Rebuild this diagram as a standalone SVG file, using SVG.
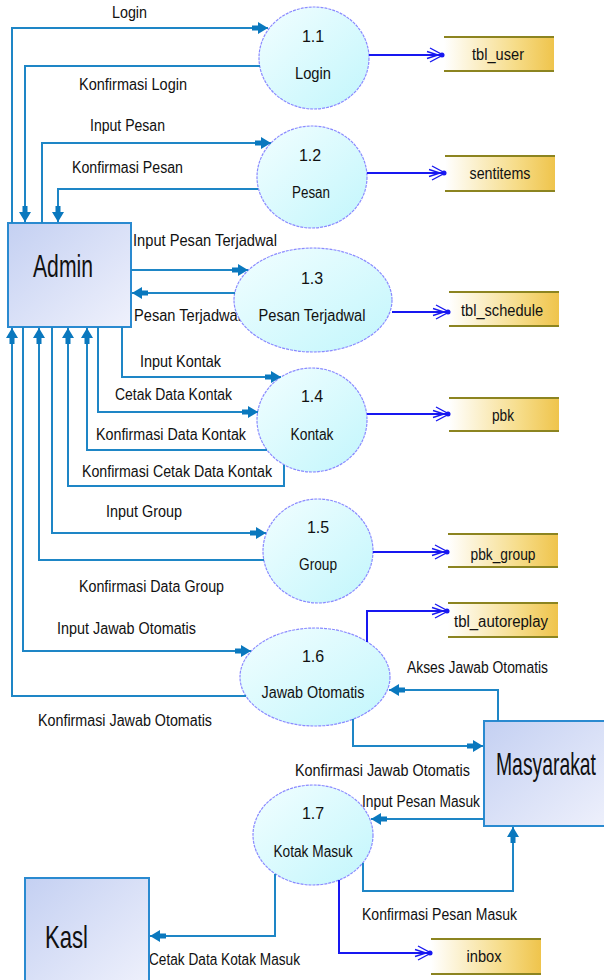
<svg xmlns="http://www.w3.org/2000/svg" width="604" height="980" viewBox="0 0 604 980">
<style>
text{font-family:"Liberation Sans",Arial,sans-serif;fill:#111;}
.lbl{font-size:16px;}
.num{font-size:16px;text-anchor:middle;}
.big{font-size:32px;}
.flow{fill:none;stroke:#1e86c6;stroke-width:2;marker-end:url(#arr);}
.sflow{fill:none;stroke:#1818f0;stroke-width:2;marker-end:url(#sarr);}
.proc{fill:url(#gEll);stroke:#8a8aff;stroke-width:1.2;stroke-dasharray:3 1;}
.ent{fill:url(#gEnt);stroke:#2a8ad0;stroke-width:2;}
.store{fill:url(#gStore);}
.sline{stroke:#8c8420;stroke-width:2;}
</style>
<defs>
<linearGradient id="gEll" x1="0" y1="0" x2="1" y2="1"><stop offset="0" stop-color="#f2feff"/><stop offset="1" stop-color="#c2f6fc"/></linearGradient>
<linearGradient id="gEnt" x1="0" y1="0" x2="1" y2="1"><stop offset="0" stop-color="#c4d0f2"/><stop offset="1" stop-color="#eff1fc"/></linearGradient>
<linearGradient id="gStore" x1="0" y1="0" x2="1" y2="0"><stop offset="0" stop-color="#ffffff"/><stop offset="0.65" stop-color="#f6dc88"/><stop offset="1" stop-color="#efc44c"/></linearGradient>
<marker id="arr" viewBox="-17 -7 18 14" refX="0" refY="0" markerWidth="18" markerHeight="14" markerUnits="userSpaceOnUse" orient="auto">
<path d="M0,0 L-10,-6 L-10,-2.5 L-16,-2.5 L-16,2.5 L-10,2.5 L-10,6 Z" fill="#0a78be"/>
</marker>
<marker id="sarr" viewBox="-18 -9 21 18" refX="0" refY="0" markerWidth="21" markerHeight="18" markerUnits="userSpaceOnUse" orient="auto">
<path d="M-13,-7 L0,0 L-13,7 M-16,-3.5 L-5,0 L-16,3.5" fill="none" stroke="#1818f0" stroke-width="1.4"/>
<circle cx="-1" cy="0" r="2.5" fill="#1818f0"/>
</marker>
</defs>

<g id="labels" class="lbl">
<text x="112" y="18" textLength="35" lengthAdjust="spacingAndGlyphs">Login</text>
<text x="79" y="90" textLength="108" lengthAdjust="spacingAndGlyphs">Konfirmasi Login</text>
<text x="90" y="131" textLength="75" lengthAdjust="spacingAndGlyphs">Input Pesan</text>
<text x="72" y="173" textLength="111" lengthAdjust="spacingAndGlyphs">Konfirmasi Pesan</text>
<text x="133" y="246" textLength="144" lengthAdjust="spacingAndGlyphs">Input Pesan Terjadwal</text>
<text x="134" y="321" textLength="107" lengthAdjust="spacingAndGlyphs">Pesan Terjadwal</text>
<text x="140" y="367" textLength="81" lengthAdjust="spacingAndGlyphs">Input Kontak</text>
<text x="115" y="400" textLength="117" lengthAdjust="spacingAndGlyphs">Cetak Data Kontak</text>
<text x="96" y="440" textLength="150" lengthAdjust="spacingAndGlyphs">Konfirmasi Data Kontak</text>
<text x="82" y="477" textLength="190" lengthAdjust="spacingAndGlyphs">Konfirmasi Cetak Data Kontak</text>
<text x="106" y="517" textLength="76" lengthAdjust="spacingAndGlyphs">Input Group</text>
<text x="79" y="592" textLength="145" lengthAdjust="spacingAndGlyphs">Konfirmasi Data Group</text>
<text x="57" y="634" textLength="139" lengthAdjust="spacingAndGlyphs">Input Jawab Otomatis</text>
<text x="38" y="726" textLength="174" lengthAdjust="spacingAndGlyphs">Konfirmasi Jawab Otomatis</text>
<text x="407" y="673" textLength="141" lengthAdjust="spacingAndGlyphs">Akses Jawab Otomatis</text>
<text x="295" y="776" textLength="175" lengthAdjust="spacingAndGlyphs">Konfirmasi Jawab Otomatis</text>
<text x="362" y="807" textLength="118" lengthAdjust="spacingAndGlyphs">Input Pesan Masuk</text>
<text x="362" y="920" textLength="155" lengthAdjust="spacingAndGlyphs">Konfirmasi Pesan Masuk</text>
<text x="149" y="965" textLength="151" lengthAdjust="spacingAndGlyphs">Cetak Data Kotak Masuk</text>
</g>

<g id="admin">
<rect class="ent" x="8" y="223" width="123" height="104"/>
<text class="big" x="33" y="277" textLength="60" lengthAdjust="spacingAndGlyphs">Admin</text>
</g>
<g id="masyarakat">
<rect class="ent" x="484" y="721" width="130" height="105"/>
<text transform="translate(496,775) scale(1,1.55)" x="0" y="0" font-size="20" textLength="100" lengthAdjust="spacingAndGlyphs">Masyarakat</text>
</g>
<g id="kasl">
<rect class="ent" x="25" y="878" width="124" height="110"/>
<text class="big" x="45" y="948" textLength="43" lengthAdjust="spacingAndGlyphs">Kasl</text>
</g>

<g id="p11">
<ellipse class="proc" cx="314" cy="58" rx="55" ry="51"/>
<text class="num" x="313" y="42">1.1</text>
<text class="num" x="313" y="79" textLength="36" lengthAdjust="spacingAndGlyphs">Login</text>
</g>
<g id="p12">
<ellipse class="proc" cx="312" cy="177" rx="55" ry="51"/>
<text class="num" x="310" y="161">1.2</text>
<text class="num" x="311" y="198" textLength="38" lengthAdjust="spacingAndGlyphs">Pesan</text>
</g>
<g id="p13">
<ellipse class="proc" cx="313" cy="300" rx="79" ry="52"/>
<text class="num" x="312" y="284">1.3</text>
<text class="num" x="312" y="321" textLength="107" lengthAdjust="spacingAndGlyphs">Pesan Terjadwal</text>
</g>
<g id="p14">
<ellipse class="proc" cx="312" cy="420" rx="55" ry="52"/>
<text class="num" x="312" y="402">1.4</text>
<text class="num" x="312" y="440" textLength="43" lengthAdjust="spacingAndGlyphs">Kontak</text>
</g>
<g id="p15">
<ellipse class="proc" cx="318" cy="551" rx="55" ry="52"/>
<text class="num" x="318" y="533">1.5</text>
<text class="num" x="318" y="570" textLength="38" lengthAdjust="spacingAndGlyphs">Group</text>
</g>
<g id="p16">
<ellipse class="proc" cx="315" cy="677" rx="75" ry="49"/>
<text class="num" x="313" y="662">1.6</text>
<text class="num" x="313" y="698" textLength="103" lengthAdjust="spacingAndGlyphs">Jawab Otomatis</text>
</g>
<g id="p17">
<ellipse class="proc" cx="313" cy="835" rx="60" ry="50"/>
<text class="num" x="313" y="819">1.7</text>
<text class="num" x="313" y="857" textLength="79" lengthAdjust="spacingAndGlyphs">Kotak Masuk</text>
</g>

<g id="s_tbl_user"><rect class="store" x="444" y="36" width="110" height="36"/><line class="sline" x1="444" y1="37" x2="554" y2="37"/><line class="sline" x1="444" y1="71" x2="554" y2="71"/><text class="num" x="498" y="60" textLength="52" lengthAdjust="spacingAndGlyphs">tbl_user</text></g>
<g id="s_sentitems"><rect class="store" x="445" y="155" width="110" height="37"/><line class="sline" x1="445" y1="156" x2="555" y2="156"/><line class="sline" x1="445" y1="191" x2="555" y2="191"/><text class="num" x="500" y="179" textLength="61" lengthAdjust="spacingAndGlyphs">sentitems</text></g>
<g id="s_tbl_schedule"><rect class="store" x="449" y="291" width="110" height="36"/><line class="sline" x1="449" y1="292" x2="559" y2="292"/><line class="sline" x1="449" y1="326" x2="559" y2="326"/><text class="num" x="502" y="316" textLength="82" lengthAdjust="spacingAndGlyphs">tbl_schedule</text></g>
<g id="s_pbk"><rect class="store" x="449" y="397" width="110" height="35"/><line class="sline" x1="449" y1="398" x2="559" y2="398"/><line class="sline" x1="449" y1="431" x2="559" y2="431"/><text class="num" x="503" y="421" textLength="22" lengthAdjust="spacingAndGlyphs">pbk</text></g>
<g id="s_pbk_group"><rect class="store" x="448" y="533" width="110" height="35"/><line class="sline" x1="448" y1="534" x2="558" y2="534"/><line class="sline" x1="448" y1="567" x2="558" y2="567"/><text class="num" x="503" y="560" textLength="65" lengthAdjust="spacingAndGlyphs">pbk_group</text></g>
<g id="s_tbl_autoreplay"><rect class="store" x="448" y="602" width="110" height="36"/><line class="sline" x1="448" y1="603" x2="558" y2="603"/><line class="sline" x1="448" y1="637" x2="558" y2="637"/><text class="num" x="501" y="627" textLength="94" lengthAdjust="spacingAndGlyphs">tbl_autoreplay</text></g>
<g id="s_inbox"><rect class="store" x="431" y="938" width="110" height="37"/><line class="sline" x1="431" y1="939" x2="541" y2="939"/><line class="sline" x1="431" y1="974" x2="541" y2="974"/><text class="num" x="484" y="962" textLength="35" lengthAdjust="spacingAndGlyphs">inbox</text></g>

<g id="connectors">
<path class="flow" d="M12,223 V28 H268"/>
<path class="flow" d="M260,66 H25 V222"/>
<path class="flow" d="M42,223 V143 H271"/>
<path class="flow" d="M258,189 H58 V222"/>
<path class="flow" d="M131,270 H248"/>
<path class="flow" d="M235,293 H132"/>
<path class="flow" d="M122,327 V377 H281"/>
<path class="flow" d="M98,327 V412 H258"/>
<path class="flow" d="M267,450 H87 V328"/>
<path class="flow" d="M284,465 V486 H68 V328"/>
<path class="flow" d="M52,327 V533 H266"/>
<path class="flow" d="M264,560 H39 V328"/>
<path class="flow" d="M23,327 V651 H251"/>
<path class="flow" d="M246,696 H12 V328"/>
<path class="flow" d="M498,721 V690 H389"/>
<path class="flow" d="M353,719 V746 H483"/>
<path class="flow" d="M484,819 H371"/>
<path class="flow" d="M363,863 V891 H513 V827"/>
<path class="flow" d="M275,874 V936 H150"/>
<path class="sflow" d="M369,55 H443"/>
<path class="sflow" d="M367,173 H445"/>
<path class="sflow" d="M392,312 H449"/>
<path class="sflow" d="M367,414 H449"/>
<path class="sflow" d="M373,552 H448"/>
<path class="sflow" d="M367,642 V611 H448"/>
<path class="sflow" d="M339,880 V953 H431"/>
</g>
</svg>
